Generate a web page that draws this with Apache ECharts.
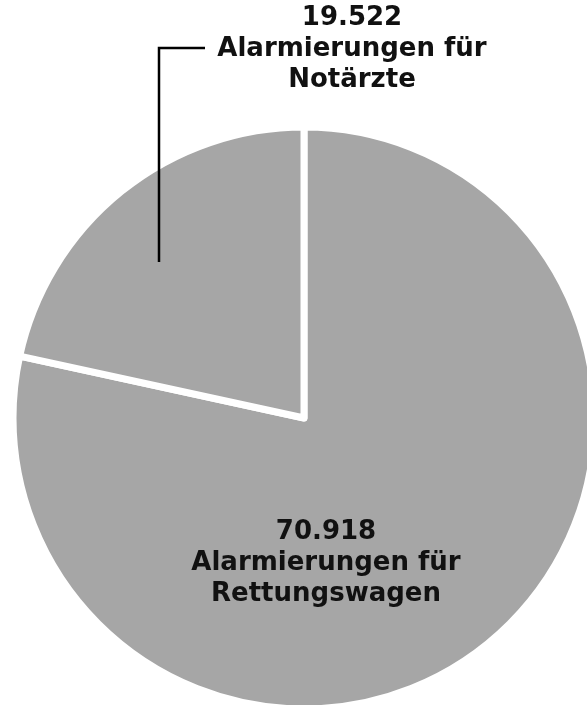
<!DOCTYPE html>
<html lang="de">
<head>
    <meta charset="UTF-8">
    <title>Alarmierungen</title>
    <script src="https://cdn.jsdelivr.net/npm/echarts@6/dist/echarts.min.js"></script>
    <style>
        html, body { margin: 0; padding: 0; background: #fff; }
        #container { width: 587px; height: 705px; }
    </style>
</head>
<body>
    <div id="container"></div>
<script>
    var names = ['Alarmierungen für\nRettungswagen', 'Alarmierungen für\nNotärzte'];
    var values = [70918, 19522];
    var labels = ['70.918', '19.522'];

    var chart = echarts.init(document.getElementById('container'));
    var cx = 304, cy = 418, r = 291;

    var data = names.map(function (n, i) {
        return { name: n, value: values[i], label: { formatter: labels[i] + '\n' + n } };
    });

    chart.setOption({
        animation: false,
        // leader line for the small slice (starts inside the slice)
        graphic: [{
            type: 'polyline',
            z: 100,
            shape: { points: [[159, 262], [159, 48], [205, 48]] },
            style: { stroke: '#000', lineWidth: 2.5, fill: null }
        }],
        series: [{
            type: 'pie',
            center: [cx, cy],
            radius: [0, r],
            startAngle: 90,
            clockwise: true,
            data: data,
            itemStyle: { color: '#a6a6a6', borderColor: '#fff', borderWidth: 7 },
            label: {
                show: true,
                position: 'outside',
                color: '#111',
                fontFamily: 'DejaVu Sans',
                fontWeight: 'bold',
                fontSize: 26,
                lineHeight: 31,
                align: 'center',
                overflow: 'none'
            },
            labelLine: { show: false },
            labelLayout: function (p) {
                if (p.dataIndex === 0) {
                    return { x: 326, y: 563, align: 'center', verticalAlign: 'middle' };
                }
                return { x: 352, y: 49, align: 'center', verticalAlign: 'middle' };
            },
            emphasis: { disabled: true }
        }]
    });
</script>
</body>
</html>
